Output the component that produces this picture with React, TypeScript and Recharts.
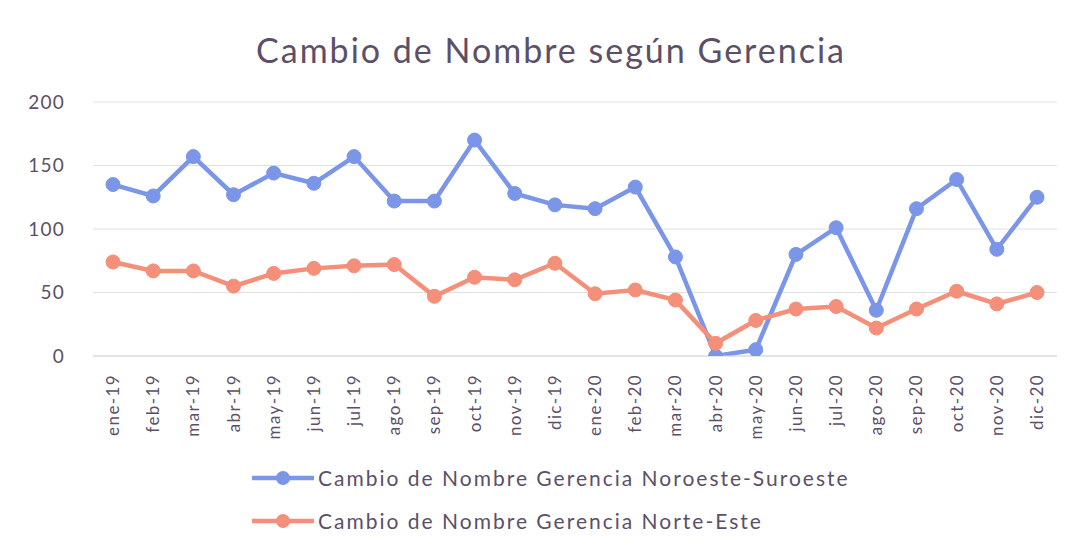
import { LineChart, Line, XAxis, YAxis, CartesianGrid, Legend } from 'recharts';

const months = [
    'ene-19', 'feb-19', 'mar-19', 'abr-19', 'may-19', 'jun-19', 'jul-19', 'ago-19', 'sep-19', 'oct-19', 'nov-19', 'dic-19',
    'ene-20', 'feb-20', 'mar-20', 'abr-20', 'may-20', 'jun-20', 'jul-20', 'ago-20', 'sep-20', 'oct-20', 'nov-20', 'dic-20',
];
const noroesteSuroeste = [135, 126, 157, 127, 144, 136, 157, 122, 122, 170, 128, 119, 116, 133, 78, 0, 5, 80, 101, 36, 116, 139, 84, 125];
const norteEste = [74, 67, 67, 55, 65, 69, 71, 72, 47, 62, 60, 73, 49, 52, 44, 10, 28, 37, 39, 22, 37, 51, 41, 50];
const yTicks = [0, 50, 100, 150, 200];

const BLUE = '#7b96e8';
const RED = '#f48f79';
const TEXT = '#5b5068';
const FONT = 'Lato, "Open Sans", sans-serif';

const series = [
    { key: 'ns', name: 'Cambio de Nombre Gerencia Noroeste-Suroeste', color: BLUE },
    { key: 'ne', name: 'Cambio de Nombre Gerencia Norte-Este', color: RED },
];

const data = months.map((m, i) => ({ month: m, ns: noroesteSuroeste[i], ne: norteEste[i] }));

function MonthTick(props: any) {
    const { x, y, payload } = props;
    return (
        <text
            x={x}
            y={y}
            transform={`rotate(-90, ${x}, ${y})`}
            textAnchor="end"
            dy={6}
            dx={-10}
            fill={TEXT}
            fontSize={17}
            fontFamily={FONT}
            letterSpacing={1.4}
        >
            {payload.value}
        </text>
    );
}

function LegendBox() {
    return (
        <div style={{ fontFamily: FONT, fontSize: 21, color: TEXT, letterSpacing: 2 }}>
            {series.map((s) => (
                <div key={s.key} style={{ display: 'flex', alignItems: 'center', height: 43, paddingLeft: 252 }}>
                    <svg width={62} height={18}>
                        <line x1={0} y1={9} x2={62} y2={9} stroke={s.color} strokeWidth={4.5} />
                        <circle cx={31} cy={9} r={7} fill={s.color} />
                    </svg>
                    <span style={{ marginLeft: 4 }}>{s.name}</span>
                </div>
            ))}
        </div>
    );
}

export default function App() {
    return (
        <div style={{ position: 'absolute', left: 0, top: 0, width: 1083, height: 552, background: '#fff' }}>
            <div
                style={{
                    position: 'absolute',
                    left: 0,
                    top: 29,
                    width: 1102,
                    textAlign: 'center',
                    fontFamily: FONT,
                    fontSize: 34,
                    color: TEXT,
                    letterSpacing: 2,
                }}
            >
                Cambio de Nombre según Gerencia
            </div>
            <LineChart width={1083} height={552} data={data} margin={{ top: 102, right: 26, bottom: 0, left: 0 }}>
                <CartesianGrid vertical={false} stroke="#e0e0e0" />
                <XAxis
                    dataKey="month"
                    interval={0}
                    height={106}
                    padding={{ left: 20, right: 20 }}
                    tick={<MonthTick />}
                    tickLine={false}
                    axisLine={{ stroke: '#d9d9d9' }}
                />
                <YAxis
                    width={93}
                    domain={[0, 200]}
                    ticks={yTicks}
                    allowDataOverflow
                    axisLine={false}
                    tickLine={false}
                    tick={{ fill: TEXT, fontSize: 19, fontFamily: FONT, letterSpacing: 1.2 }}
                    tickMargin={22}
                />
                <Legend
                    verticalAlign="bottom"
                    align="left"
                    content={<LegendBox />}
                    wrapperStyle={{ left: 0, bottom: 6, height: 90, width: 1083 }}
                />
                {series.map((s) => (
                    <Line
                        key={s.key}
                        dataKey={s.key}
                        name={s.name}
                        stroke={s.color}
                        strokeWidth={4.5}
                        dot={{ r: 7, fill: s.color, stroke: s.color, strokeWidth: 1 }}
                        isAnimationActive={false}
                    />
                ))}
            </LineChart>
        </div>
    );
}
